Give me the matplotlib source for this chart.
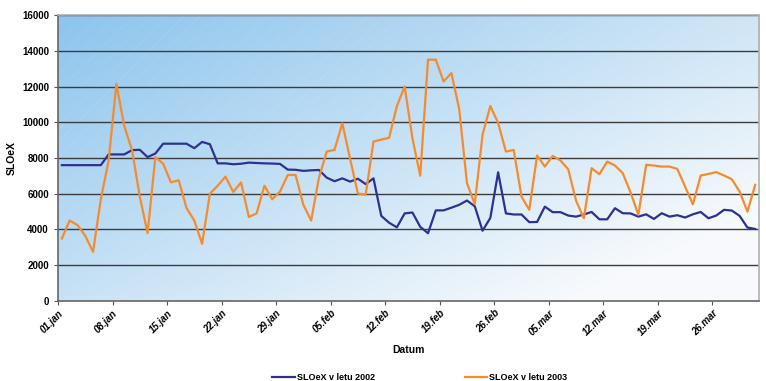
import numpy as np
import matplotlib.pyplot as plt
from matplotlib.patches import Rectangle

plt.rcParams['font.family'] = ['Liberation Sans', 'DejaVu Sans']

# dnevne vrednosti indeksa, 01.jan - 31.mar
sloex_2002 = [7600, 7600, 7600, 7600, 7600, 7600, 8200, 8200, 8200, 8440,
              8460, 8050, 8250, 8800, 8800, 8800, 8800, 8550, 8900, 8770,
              7700, 7700, 7650, 7680, 7740, 7720, 7700, 7690, 7670, 7350,
              7340, 7280, 7310, 7330, 6900, 6700, 6860, 6680, 6840, 6540,
              6860, 4760, 4380, 4120, 4900, 4950, 4150, 3790, 5070, 5070,
              5220, 5380, 5620, 5300, 3930, 4650, 7200, 4900, 4840, 4840,
              4410, 4420, 5280, 4970, 4970, 4780, 4720, 4840, 4980, 4570,
              4570, 5190, 4910, 4900, 4720, 4850, 4590, 4910, 4720, 4800,
              4670, 4850, 4980, 4630, 4780, 5100, 5060, 4760, 4110, 4030]

sloex_2003 = [3500, 4500, 4250, 3650, 2750, 5700, 7850, 12150, 9800, 8450,
              5850, 3800, 8050, 7680, 6640, 6750, 5200, 4500, 3200, 6000,
              6450, 6960, 6100, 6630, 4700, 4900, 6450, 5690, 6120, 7050,
              7050, 5380, 4500, 6900, 8360, 8460, 9940, 7950, 6010, 5950,
              8920, 9030, 9130, 10900, 12000, 9100, 7010, 13500, 13500, 12280,
              12750, 10750, 6600, 5420, 9300, 10910, 9960, 8360, 8450, 5840,
              5100, 8140, 7520, 8120, 7860, 7370, 5620, 4630, 7430, 7090,
              7800, 7580, 7150, 6070, 4820, 7620, 7580, 7520, 7520, 7390,
              6400, 5410, 7020, 7110, 7210, 7020, 6810, 6120, 5000, 6500]

tick_labels = ['01.jan', '08.jan', '15.jan', '22.jan', '29.jan', '05.feb',
               '12.feb', '19.feb', '26.feb', '05.mar', '12.mar', '19.mar',
               '26.mar']

n = len(sloex_2002)
x = np.arange(n) + 0.5

fig = plt.figure(figsize=(7.66, 3.81), dpi=100)
ax = fig.add_axes([0.0757, 0.21, 0.9153, 0.7506])

# ozadje: diagonalni prehod iz modre v belo
gx, gy = np.meshgrid(np.linspace(0, 1, 300), np.linspace(0, 1, 150))
t = np.clip(0.62 * gx + 0.55 * gy, 0, 1)
c0 = np.array([0.55, 0.77, 0.93])
c1 = np.array([0.97, 0.98, 0.99])
img = c0[None, None, :] * (1 - t[..., None]) + c1[None, None, :] * t[..., None]
ax.imshow(img, extent=[0, 1, 0, 1], transform=ax.transAxes, aspect='auto',
          zorder=0, interpolation='bilinear')
plt.rcParams['hatch.linewidth'] = 0.4
ax.add_patch(Rectangle((0, 0), 1, 1, transform=ax.transAxes, fill=False,
                       hatch='//', edgecolor=(1, 1, 1, 0.12), lw=0, zorder=0.5))

for yv in range(2000, 16001, 2000):
    ax.axhline(yv, color='#3c3c3c', lw=1.0, zorder=1)

ax.plot(x, sloex_2002, color='#2E3192', lw=1.6, label='SLOeX v letu 2002', zorder=3)
ax.plot(x, sloex_2003, color='#F68B2C', lw=1.6, label='SLOeX v letu 2003', zorder=3)

ax.set_xlim(0, n)
ax.set_ylim(0, 16000)
ax.set_yticks(range(0, 16001, 2000))
ax.set_xticks(np.arange(len(tick_labels)) * 7)
ax.set_xticklabels(tick_labels, rotation=45, ha='right', rotation_mode='anchor',
                   fontsize=7, fontweight='bold', style='italic')
ax.tick_params(axis='y', labelsize=7, length=3, color='#555555')
ax.tick_params(axis='x', length=3, color='#555555', pad=2)
for lab in ax.get_yticklabels():
    lab.set_fontweight('bold')

for side in ['left', 'bottom']:
    ax.spines[side].set_color('#666666')
    ax.spines[side].set_linewidth(1.2)
for side in ['top', 'right']:
    ax.spines[side].set_color('#b0b0b0')
    ax.spines[side].set_linewidth(1.2)

ax.set_ylabel('SLOeX', fontsize=7.5, fontweight='bold', labelpad=4)
ax.set_xlabel('Datum', fontsize=7.5, fontweight='bold', labelpad=6)

fig.legend(loc='lower center', bbox_to_anchor=(0.548, -0.025), ncol=2,
           frameon=False, handlelength=2.5, handletextpad=0.2,
           columnspacing=10, prop={'weight': 'bold', 'size': 6.5})

fig.savefig('out.png', dpi=100)
